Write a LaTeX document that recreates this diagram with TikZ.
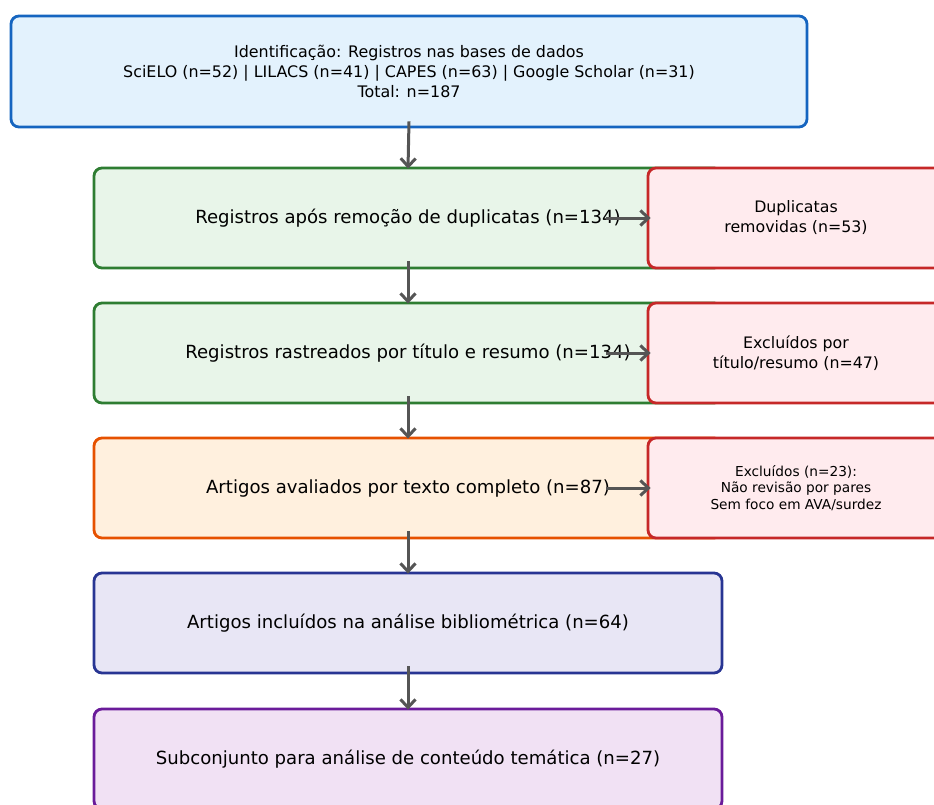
\documentclass[tikz,border=0pt]{standalone}
\usepackage{fontspec}
\setmainfont{DejaVu Sans}
\usetikzlibrary{arrows.meta}

\definecolor{blueline}{HTML}{1565C0}
\definecolor{bluefill}{HTML}{E3F2FD}
\definecolor{greenline}{HTML}{2E7D32}
\definecolor{greenfill}{HTML}{E8F5E9}
\definecolor{orangeline}{HTML}{E65100}
\definecolor{orangefill}{HTML}{FFF0DE}
\definecolor{indigoline}{HTML}{283593}
\definecolor{indigofill}{HTML}{E8E6F5}
\definecolor{purpleline}{HTML}{6A1B9A}
\definecolor{purplefill}{HTML}{F1E1F4}
\definecolor{redline}{HTML}{C62828}
\definecolor{redfill}{HTML}{FFEBEE}
\definecolor{arrowgray}{HTML}{555555}

\begin{document}
\begin{tikzpicture}[
  x=1pt, y=-1pt,
  box/.style = {shape=rectangle, rounded corners=8pt, line width=2.8pt,
                align=center, inner sep=0pt, text=black},
  stage/.style = {box, minimum width=628pt, minimum height=100pt,
                  font=\fontsize{18.1}{22}\selectfont},
  exclbox/.style = {box, draw=redline, fill=redfill, minimum width=296pt,
                    minimum height=100pt, font=\fontsize{15.8}{20}\selectfont},
  flow/.style = {draw=arrowgray, line width=3pt,
                 -{Straight Barb[length=8pt, width=15pt, line width=3pt]}}
]
  \useasboundingbox (0,0) rectangle (934,804);
  \clip (0,0) rectangle (934,804);

  % main stages
  \node[box, draw=blueline, fill=bluefill, minimum width=796pt, minimum height=111pt,
        font=\fontsize{15.9}{19.8}\selectfont] (ident) at (409,71.5)
        {Identificação: Registros nas bases de dados\\
         SciELO (n=52) | LILACS (n=41) | CAPES (n=63) | Google Scholar (n=31)\\
         Total: n=187};
  \node[stage, draw=greenline, fill=greenfill] (dedup) at (408,218)
        {Registros após remoção de duplicatas (n=134)};
  \node[stage, draw=greenline, fill=greenfill] (screen) at (408,353)
        {Registros rastreados por título e resumo (n=134)};
  \node[stage, draw=orangeline, fill=orangefill] (fulltext) at (408,488)
        {Artigos avaliados por texto completo (n=87)};
  \node[stage, draw=indigoline, fill=indigofill] (included) at (408,623)
        {Artigos incluídos na análise bibliométrica (n=64)};
  \node[stage, draw=purpleline, fill=purplefill] (subset) at (408,759)
        {Subconjunto para análise de conteúdo temática (n=27)};

  % exclusions
  \node[exclbox] (dups) at (796,218) {Duplicatas\\removidas (n=53)};
  \node[exclbox] (exclscreen) at (796,353) {Excluídos por\\título/resumo (n=47)};
  \node[exclbox, font=\fontsize{13.7}{16.5}\selectfont] (exclfull) at (796,488)
        {Excluídos (n=23):\\Não revisão por pares\\Sem foco em AVA/surdez};

  \draw[flow] ([yshift=7pt]ident.south) -- ([yshift=-2pt]dedup.north);
  \draw[flow] ([yshift=8pt]dedup.south) -- ([yshift=-2pt]screen.north);
  \draw[flow] ([yshift=8pt]screen.south) -- ([yshift=-2pt]fulltext.north);
  \draw[flow] ([yshift=8pt]fulltext.south) -- ([yshift=-2pt]included.north);
  \draw[flow] ([yshift=8pt]included.south) -- ([yshift=-2pt]subset.north);
  \draw[flow] ([xshift=-117pt]dedup.east) -- ([xshift=4pt]dups.west);
  \draw[flow] ([xshift=-117pt]screen.east) -- ([xshift=4pt]exclscreen.west);
  \draw[flow] ([xshift=-117pt]fulltext.east) -- ([xshift=4pt]exclfull.west);
\end{tikzpicture}
\end{document}
